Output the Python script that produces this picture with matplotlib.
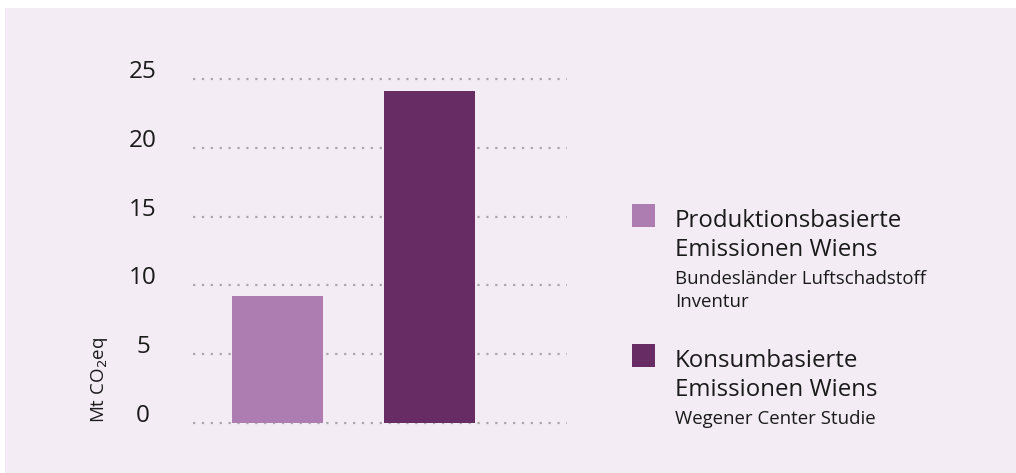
import matplotlib
matplotlib.use("Agg")
import matplotlib.pyplot as plt
import matplotlib.transforms as mtransforms
from matplotlib.patches import Rectangle

plt.rcParams['font.family'] = ['Open Sans', 'DejaVu Sans']

# data
categories = [["Produktionsbasierte", "Emissionen Wiens"], ["Konsumbasierte", "Emissionen Wiens"]]
sources = [["Bundesländer Luftschadstoff", "Inventur"], ["Wegener Center Studie"]]
values = [9.2, 24.1]
colors = ["#ad7db1", "#672c63"]
yticks = [0, 5, 10, 15, 20, 25]

W, H = 1016, 473
fig = plt.figure(figsize=(W / 100, H / 100), dpi=100)
fig.patch.set_facecolor("white")
fig.patches.append(Rectangle((5 / W, 0), 1, 1 - 8 / H, transform=fig.transFigure,
                             facecolor="#f3ecf5", edgecolor="none", zorder=-5))

ax = fig.add_axes([193 / W, 1 - 423 / H, 374 / W, 344 / H])
ax.set_facecolor("none")
ax.bar(range(len(values)), values, width=0.6, color=colors, zorder=3)
ax.set_xlim(-0.556, 1.905)
ax.set_ylim(0, 25)
for s in ax.spines.values():
    s.set_visible(False)
ax.set_xticks([])
ax.set_yticks([])
for t in yticks:
    ax.axhline(t, color="#a8a6a9", lw=1.6, ls=(0, (1, 3)), dash_capstyle="butt",
               clip_on=False, zorder=1)

# tick labels, sitting slightly above the gridlines
off = mtransforms.ScaledTranslation(0, 7 / 100, fig.dpi_scale_trans)
tr = mtransforms.blended_transform_factory(ax.transAxes, ax.transData) + off
for t in yticks:
    ax.text((143 - 193) / 374, t, str(t), transform=tr, ha="center", va="center",
            fontsize=17.5, color="#1a1a1a")

fig.text(100 / W, 1 - 380 / H, "Mt CO$_2$eq", rotation=90, ha="center", va="center",
         fontsize=13.5, color="#1a1a1a")

# legend, one text per line
sq_top = [204, 344]
title_base = [227, 367]
for i in range(len(values)):
    fig.patches.append(Rectangle((632 / W, 1 - (sq_top[i] + 23) / H), 23 / W, 23 / H,
                                 transform=fig.transFigure, facecolor=colors[i],
                                 edgecolor="none"))
    y = title_base[i]
    for line in categories[i]:
        fig.text(675 / W, 1 - y / H, line, ha="left", va="baseline",
                 fontsize=17.3, color="#1a1a1a")
        y += 29
    y -= 29
    for line in sources[i]:
        y += 28 if line == sources[i][0] else 23
        fig.text(675 / W, 1 - y / H, line, ha="left", va="baseline",
                 fontsize=13.4, color="#1a1a1a")

fig.savefig("out.png", dpi=100, facecolor=fig.get_facecolor())
